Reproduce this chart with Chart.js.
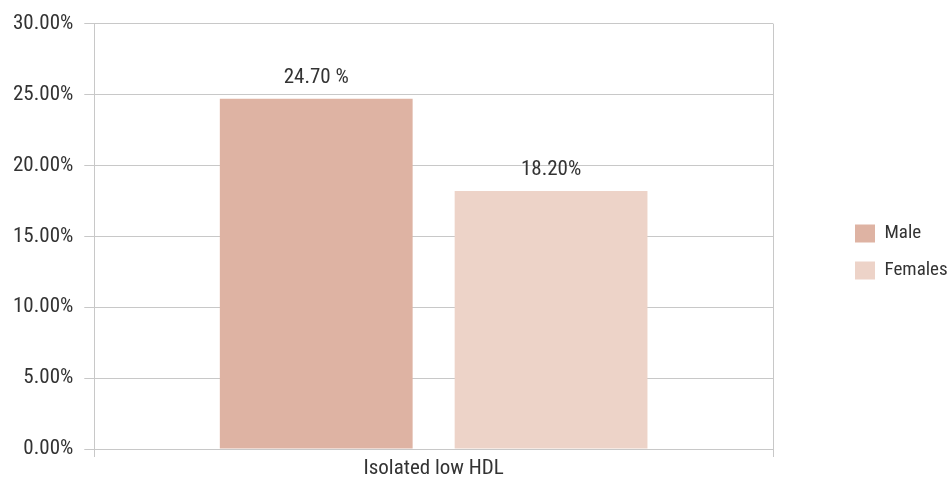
<!DOCTYPE html>
<html>
<head>
<meta charset="utf-8">
<script src="https://cdn.jsdelivr.net/npm/chart.js@4/dist/chart.umd.min.js"></script>
<style>
  html, body { margin: 0; padding: 0; background: #fff; }
  #wrap { width: 950px; height: 481px; position: relative; }
</style>
</head>
<body>
<div id="wrap"><canvas id="chart"></canvas></div>
<script>
const categories = ["Isolated low HDL"];
const seriesNames = ["Male", "Females"];
const maleValues = [24.7];
const femaleValues = [18.2];
const valueLabels = [["24.70 %"], ["18.20%"]];
const yTicks = [0, 5, 10, 15, 20, 25, 30];

const FONT = '"Liberation Sans Narrow", "Roboto Condensed", "DejaVu Sans Condensed", sans-serif';
const FONT_SIZE = 21;
const GRID = "#c8c8c8";
const TEXT = "#333333";
const LEGEND_WIDTH = 177; // space kept right of the plot
const LEGEND_ITEM_X = 837; // legend items start here (plus padding)
const LEGEND_SHIFT_Y = 6;

// draws the value text above each bar
const barLabels = {
  id: "barLabels",
  afterDatasetsDraw(chart) {
    const ctx = chart.ctx;
    ctx.save();
    ctx.font = FONT_SIZE + "px " + FONT;
    ctx.fillStyle = TEXT;
    ctx.textAlign = "center";
    ctx.textBaseline = "alphabetic";
    chart.data.datasets.forEach((ds, i) => {
      chart.getDatasetMeta(i).data.forEach((bar, j) => {
        ctx.fillText(valueLabels[i][j], bar.x, bar.y - 16);
      });
    });
    ctx.restore();
  },
};

// widen the legend box, then move its items to the right
const legendSpace = {
  id: "legendSpace",
  beforeInit(chart) {
    const legend = chart.legend;
    const fit = legend.fit;
    legend.fit = function () {
      fit.call(this);
      this.width = LEGEND_WIDTH;
    };
  },
  afterLayout(chart) {
    chart.legend.left = LEGEND_ITEM_X;
    chart.legend.top += LEGEND_SHIFT_Y;
    chart.legend.bottom += LEGEND_SHIFT_Y;
  },
};

new Chart(document.getElementById("chart"), {
  type: "bar",
  data: {
    labels: categories,
    datasets: [
      {
        label: seriesNames[0],
        data: maleValues,
        backgroundColor: "#deb3a3",
      },
      {
        label: seriesNames[1],
        data: femaleValues,
        backgroundColor: "#edd3c8",
      },
    ],
  },
  options: {
    responsive: true,
    maintainAspectRatio: false,
    animation: false,
    categoryPercentage: 0.692,
    barPercentage: 0.821,
    layout: { padding: { top: 12, right: 0, bottom: 1, left: 2 } },
    plugins: {
      tooltip: { enabled: false },
      legend: {
        position: "right",
        labels: {
          font: { family: FONT, size: 19 },
          color: TEXT,
          boxWidth: 20,
          boxHeight: 18,
          padding: 18,
        },
      },
    },
    scales: {
      x: {
        grid: { color: GRID, tickLength: 8, offset: true },
        border: { color: GRID },
        ticks: {
          font: { family: FONT, size: FONT_SIZE, lineHeight: 1 },
          color: TEXT,
          padding: 1,
        },
      },
      y: {
        min: 0,
        max: 30,
        afterBuildTicks(scale) {
          scale.ticks = yTicks.map((v) => ({ value: v }));
        },
        grid: { color: GRID, tickLength: 10 },
        border: { color: GRID },
        ticks: {
          font: { family: FONT, size: FONT_SIZE },
          color: TEXT,
          padding: 11,
          callback: (v) => v.toFixed(2) + "%",
        },
      },
    },
  },
  plugins: [barLabels, legendSpace],
});
</script>
</body>
</html>
